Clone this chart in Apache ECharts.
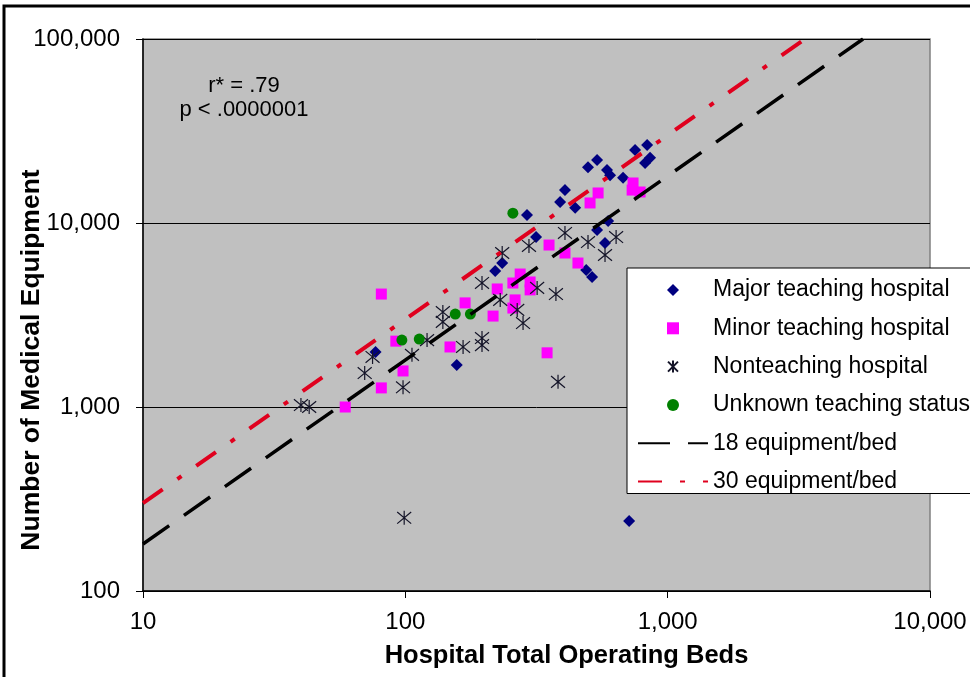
<!DOCTYPE html>
<html><head><meta charset="utf-8">
<script src="https://cdn.jsdelivr.net/npm/echarts@6/dist/echarts.min.js"></script>
<style>html,body{margin:0;padding:0;background:#fff}#c{width:970px;height:677px}</style>
</head><body><div id="c"></div>
<script>
// [beds, equipment]
const majorTeaching = [[77,1990],[157,1690],[220,5480],[234,6060],[291,11050],[315,8390],[389,13000],[406,15100],[444,12100],[497,20100],[538,22000],[587,19400],[603,18200],[676,17600],[593,10250],[538,9160],[577,7790],[489,5560],[515,5090],[751,24900],[835,26500],[857,22600],[820,21200],[713,240]];
const minorTeaching = [[81,4110],[92,2280],[98,1570],[81,1270],[59,1000],[148,2120],[169,3680],[216,3120],[224,4380],[257,4720],[262,3820],[257,3450],[274,5280],[299,4780],[299,4330],[353,7590],[406,6870],[455,6060],[347,1970],[506,12850],[543,14560],[738,16500],[785,14740],[732,15100]];
const nonTeaching = [[40,1025],[43,1000],[70,1530],[75,1870],[98,1280],[106,1920],[121,2310],[139,3280],[139,2900],[166,2120],[196,2370],[196,2170],[196,4720],[230,3820],[234,6870],[267,3370],[281,2860],[296,7500],[318,4440],[375,4110],[382,1370],[406,8830],[497,7880],[636,8390],[577,6700],[99,250]];
const unknownStatus = [[97,2310],[113,2340],[155,3200],[177,3200],[257,11300]];
const line18 = [[10,180],[5556,100000]];
const line30 = [[10,300],[3333,100000]];
const xTicks = [10,100,1000,10000];
const xTickLabels = ['10','100','1,000','10,000'];
const yTicks = [100,1000,10000,100000];
const yTickLabels = ['100','1,000','10,000','100,000'];
const seriesNames = ['Major teaching hospital','Minor teaching hospital','Nonteaching hospital','Unknown teaching status','18 equipment/bed','30 equipment/bed'];
const annotation = ['r* = .79','p < .0000001'];

function lab(ticks, labels){ return v => { for (let i=0;i<ticks.length;i++){ if (Math.abs(Math.log10(v)-Math.log10(ticks[i]))<1e-6) return labels[i]; } return ''; }; }
const FONT = '"Liberation Sans", Arial, sans-serif';
const asterisk = 'path://M0,0L10,10M10,0L0,10M5,-1L5,11';
const diamond = 'path://M5,0L10,5L5,10L0,5Z';
const square = 'path://M0,0L10,0L10,10L0,10Z';
const circle = 'path://M5,0A5,5,0,1,1,5,10A5,5,0,1,1,5,0Z';
const hidden = {color:'rgba(0,0,0,0)',borderColor:'rgba(0,0,0,0)',borderWidth:0};

const chart = echarts.init(document.getElementById('c'), null, {renderer:'canvas'});
chart.setOption({
  animation:false,
  backgroundColor:'#fff',
  textStyle:{fontFamily:FONT},
  grid:{left:143,right:40,top:39,bottom:86,outerBoundsMode:'none',containLabel:false,show:true,backgroundColor:'#c0c0c0',borderColor:'#808080',borderWidth:1.5},
  xAxis:{type:'log',logBase:10,min:10,max:10000,
    name:'Hospital Total Operating Beds',nameLocation:'middle',nameGap:52,nameMoveOverlap:false,
    nameTextStyle:{fontFamily:FONT,fontWeight:'bold',fontSize:25.5,color:'#000',padding:[0,0,0,60]},
    axisLine:{lineStyle:{color:'#000',width:1.5}},
    axisTick:{show:true,length:7,lineStyle:{color:'#000'}},
    minorTick:{show:false},splitLine:{show:false},
    axisLabel:{margin:19,fontFamily:FONT,fontSize:24,color:'#000',formatter:lab(xTicks,xTickLabels)}},
  yAxis:{type:'log',logBase:10,min:100,max:100000,
    name:'Number of Medical Equipment',nameLocation:'middle',nameGap:98,nameMoveOverlap:false,
    nameTextStyle:{fontFamily:FONT,fontWeight:'bold',fontSize:26.5,color:'#000',padding:[0,90,0,0]},
    axisLine:{show:true,lineStyle:{color:'#000',width:1.5}},
    axisTick:{show:true,length:7,lineStyle:{color:'#000'}},
    minorTick:{show:false},
    splitLine:{show:true,lineStyle:{color:'#000',width:1}},
    axisLabel:{margin:23,fontFamily:FONT,fontSize:24,color:'#000',formatter:lab(yTicks,yTickLabels)}},
  legend:{left:627,top:268,orient:'vertical',itemWidth:70,itemHeight:12,itemGap:14.3,
    padding:[10,10,0,10],backgroundColor:'#fff',borderColor:'#000',borderWidth:1,
    textStyle:{fontFamily:FONT,fontSize:23,color:'#000',lineHeight:24},
    data:[seriesNames[0],seriesNames[1],seriesNames[2],seriesNames[3],
      {name:seriesNames[4],itemStyle:hidden},{name:seriesNames[5],itemStyle:hidden}]},
  graphic:[
    {type:'rect',shape:{x:4,y:6,width:1100,height:1000},style:{fill:'none',stroke:'#000',lineWidth:3},z:100},
    {type:'text',x:244,y:86,style:{text:annotation[0],fontFamily:FONT,fontSize:22,fill:'#000',align:'center',verticalAlign:'middle'},z:50},
    {type:'text',x:244,y:110,style:{text:annotation[1],fontFamily:FONT,fontSize:22,fill:'#000',align:'center',verticalAlign:'middle'},z:50}
  ],
  series:[
    {name:seriesNames[0],type:'scatter',data:majorTeaching,symbol:diamond,symbolSize:12,itemStyle:{color:'#000080',opacity:1}},
    {name:seriesNames[1],type:'scatter',data:minorTeaching,symbol:square,symbolSize:11,itemStyle:{color:'#ff00ff',opacity:1}},
    {name:seriesNames[2],type:'scatter',data:nonTeaching,symbol:asterisk,symbolSize:14,itemStyle:{color:'rgba(0,0,0,0)',borderColor:'#141428',borderWidth:1.2,opacity:1}},
    {name:seriesNames[3],type:'scatter',data:unknownStatus,symbol:circle,symbolSize:11,itemStyle:{color:'#008000',opacity:1}},
    {name:seriesNames[4],type:'line',data:line18,symbol:'circle',showSymbol:false,z:5,lineStyle:{color:'#000',width:3.5,type:[32,18]},itemStyle:{color:'#000'}},
    {name:seriesNames[5],type:'line',data:line30,symbol:'circle',showSymbol:false,z:5,lineStyle:{color:'#e0001e',width:4,type:[24,18,5,18]},itemStyle:{color:'#e0001e'}}
  ]
});
</script></body></html>
